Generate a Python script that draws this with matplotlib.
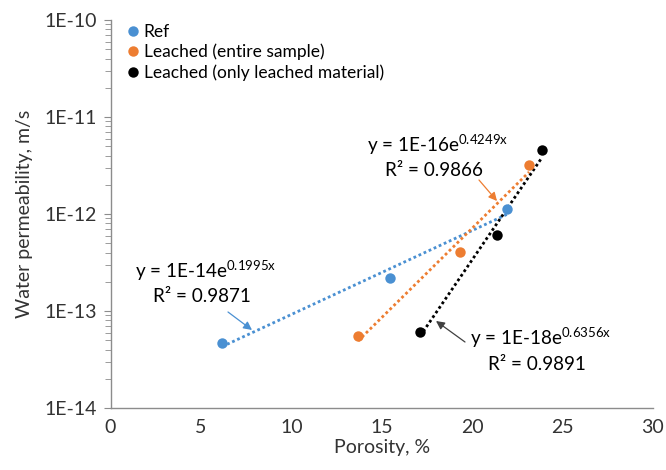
import numpy as np
import matplotlib
matplotlib.use("Agg")
import matplotlib.pyplot as plt
from matplotlib.ticker import FixedLocator, FuncFormatter, LogLocator, NullFormatter

plt.rcParams['font.family'] = ['Lato', 'DejaVu Sans']

# Porosity (%) and water permeability (m/s) per sample group
ref_porosity = [6.17, 15.46, 21.93]
ref_perm = [4.7e-14, 2.19e-13, 1.13e-12]

leached_porosity = [13.69, 19.33, 23.15]
leached_perm = [5.5e-14, 4.06e-13, 3.2e-12]

only_porosity = [17.12, 21.38, 23.87]
only_perm = [6.1e-14, 6.1e-13, 4.57e-12]

series_names = ["Ref", "Leached (entire sample)", "Leached (only leached material)"]
series_colors = ["#4A90D2", "#ED7D31", "#000000"]

equations = [
    (r"y = 1E-14e$^{\mathregular{0.1995x}}$", "R² = 0.9871"),
    (r"y = 1E-16e$^{\mathregular{0.4249x}}$", "R² = 0.9866"),
    (r"y = 1E-18e$^{\mathregular{0.6356x}}$", "R² = 0.9891"),
]

x_ticks = [0, 5, 10, 15, 20, 25, 30]
y_ticks = [1e-14, 1e-13, 1e-12, 1e-11, 1e-10]

W, H = 666, 470
fig = plt.figure(figsize=(W / 100, H / 100), dpi=100)
ax = fig.add_axes([110.5 / W, 1 - 408 / H, (653 - 110.5) / W, (408 - 20) / H])

data = [
    (ref_porosity, ref_perm),
    (leached_porosity, leached_perm),
    (only_porosity, only_perm),
]

for (xs, ys), name, color in zip(data, series_names, series_colors):
    xs = np.asarray(xs)
    ys = np.asarray(ys)
    # exponential trend line fitted on ln(y)
    b, ln_a = np.polyfit(xs, np.log(ys), 1)
    xf = np.linspace(xs.min(), xs.max(), 50)
    ax.plot(xf, np.exp(ln_a) * np.exp(b * xf), linestyle=(0, (1, 1)),
            color=color, lw=2, zorder=2)
    ax.plot(xs, ys, 'o', color=color, markersize=7.5, label=name,
            markeredgewidth=0, zorder=3)

ax.set_yscale('log')
ax.set_xlim(0, 30)
ax.set_ylim(1e-14, 1e-10)

ax.xaxis.set_major_locator(FixedLocator(x_ticks))
ax.yaxis.set_major_locator(FixedLocator(y_ticks))
ax.yaxis.set_minor_locator(LogLocator(base=10, subs=np.arange(2, 10)))
ax.yaxis.set_minor_formatter(NullFormatter())
ax.yaxis.set_major_formatter(FuncFormatter(lambda v, p: f"1E{int(round(np.log10(v)))}"))

for s in ['top', 'right']:
    ax.spines[s].set_visible(False)
for s in ['left', 'bottom']:
    ax.spines[s].set_color('#8C8C8C')
    ax.spines[s].set_linewidth(1.0)

label_color = '#333333'
ax.tick_params(axis='x', length=0, labelsize=14, labelcolor=label_color, pad=8)
ax.tick_params(axis='y', which='major', length=5, color='#8C8C8C',
               labelsize=14, labelcolor=label_color, pad=5)
ax.tick_params(axis='y', which='minor', length=4, color='#8C8C8C')

ax.set_xlabel("Porosity, %", fontsize=14, color=label_color, labelpad=2)
ax.set_ylabel("Water permeability, m/s", fontsize=14, color=label_color, labelpad=8)

leg = ax.legend(loc='upper left', bbox_to_anchor=(0.029, 0.99), frameon=False,
                fontsize=12.5, handletextpad=0.2, handlelength=0.8,
                labelspacing=0.22, borderaxespad=0.0, borderpad=0.0)
for t in leg.get_texts():
    t.set_color('#000000')


def px(x, y):
    """Figure-pixel position (from top-left) to figure fraction."""
    return (x / W, 1 - y / H)


text_style = dict(fontsize=13.6, color='#000000', va='center', ha='left')

# Equation labels with arrows pointing at the trend lines
label_pos = [
    ((135, 271), (153, 297), (228, 312), (252, 330)),
    ((367, 145), (385, 171), (479, 180), (497, 201)),
    ((470, 338), (488, 364), (465, 342), (436, 321)),
]

for (eq, r2), color, (p1, p2, a0, a1) in zip(equations, series_colors, label_pos):
    fig.text(*px(*p1), eq, **text_style)
    fig.text(*px(*p2), r2, **text_style)
    fig.add_artist(matplotlib.patches.FancyArrowPatch(
        px(*a0), px(*a1), transform=fig.transFigure,
        arrowstyle='-|>,head_length=5,head_width=2.5',
        color=color if color != '#000000' else '#404040', lw=0.9,
        shrinkA=0, shrinkB=0))

fig.savefig("out.png", dpi=100)
